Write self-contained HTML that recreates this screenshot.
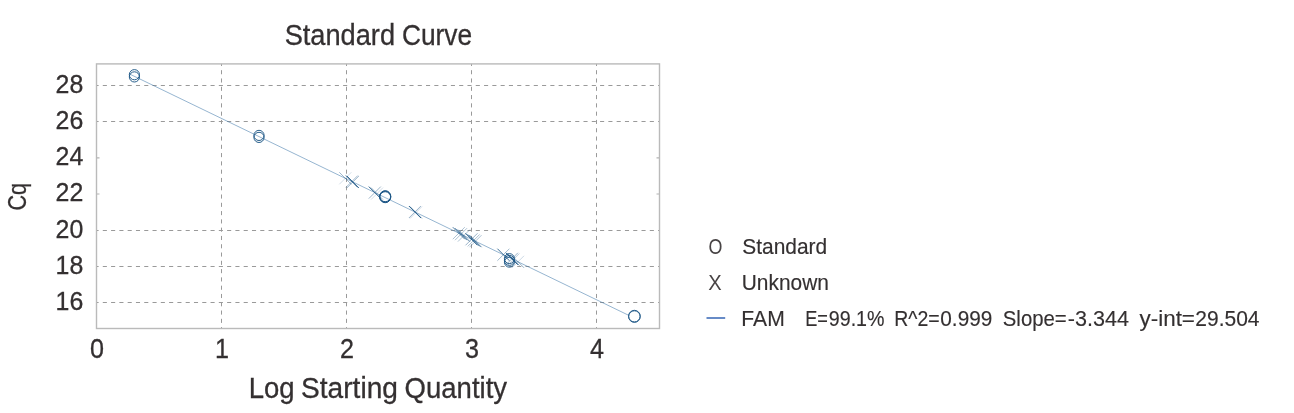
<!DOCTYPE html>
<html lang="en">
<head>
<meta charset="utf-8">
<title>Standard Curve</title>
<style>
html,body{margin:0;padding:0;background:#fff;}
body{width:1294px;height:413px;overflow:hidden;}
svg{display:block;}
text{font-family:"Liberation Sans","DejaVu Sans",sans-serif;fill:#343031;}
.t28{font-size:29px;stroke:#343031;stroke-width:0.3px;}
.t24{font-size:26.5px;stroke:#343031;stroke-width:0.3px;}
.t24x{font-size:27.3px;stroke:#343031;stroke-width:0.3px;}
.t20{font-size:21.3px;stroke:#343031;stroke-width:0.15px;}
.grid line{stroke:#9a9a9a;stroke-width:1;stroke-dasharray:4.1 4.188;stroke-dashoffset:2.0;}
.grid line.v{stroke-dashoffset:2.7;}
.std circle{fill:none;stroke:#1c5686;}
.unk path{fill:none;stroke:#1c5686;}
</style>
</head>
<body>
<svg width="1294" height="413" viewBox="0 0 1294 413">
<rect x="0" y="0" width="1294" height="413" fill="#ffffff"/>

<g class="grid">
<line class="v" x1="221.50" y1="328.50" x2="221.50" y2="63.90"/>
<line class="v" x1="346.50" y1="328.50" x2="346.50" y2="63.90"/>
<line class="v" x1="471.50" y1="328.50" x2="471.50" y2="63.90"/>
<line class="v" x1="596.50" y1="328.50" x2="596.50" y2="63.90"/>
<line x1="96.50" y1="302.50" x2="659.50" y2="302.50"/>
<line x1="96.50" y1="266.50" x2="659.50" y2="266.50"/>
<line x1="96.50" y1="230.50" x2="659.50" y2="230.50"/>
<line x1="96.50" y1="121.50" x2="659.50" y2="121.50"/>
<line x1="96.50" y1="85.50" x2="659.50" y2="85.50"/>
</g>
<path d="M96.50 194.00h3M659.50 194.00h-3" stroke="#b4b4b4" stroke-width="1.2" fill="none"/>
<path d="M96.50 157.83h3M659.50 157.83h-3" stroke="#b4b4b4" stroke-width="1.2" fill="none"/>
<rect x="96.50" y="63.90" width="563.00" height="264.60" fill="none" stroke="#bababa" stroke-width="1.4"/>
<line x1="129.80" y1="74.11" x2="628.60" y2="315.27" stroke="#3f78a8" stroke-width="0.55"/>
<g class="std">
<circle cx="134.4" cy="74.7" r="5.1" stroke-width="0.95"/>
<circle cx="134.4" cy="76.9" r="5.1" stroke-width="0.95"/>
<circle cx="259.0" cy="135.4" r="5.1" stroke-width="0.95"/>
<circle cx="259.0" cy="137.4" r="5.1" stroke-width="0.95"/>
<circle cx="385.2" cy="196.2" r="5.5" stroke-width="1.00"/>
<circle cx="385.2" cy="196.7" r="5.6" stroke-width="1.00"/>
<circle cx="385.2" cy="197.2" r="5.5" stroke-width="1.00"/>
<circle cx="509.4" cy="258.6" r="5.0" stroke-width="0.95"/>
<circle cx="509.4" cy="260.4" r="5.0" stroke-width="0.95"/>
<circle cx="509.4" cy="262.2" r="5.0" stroke-width="0.95"/>
<circle cx="634.4" cy="316.1" r="5.8" stroke-width="0.90"/>
<circle cx="634.4" cy="316.6" r="5.8" stroke-width="0.90"/>
</g>
<g class="unk">
<path opacity="0.45" stroke-width="0.95" d="M339.3 172.3L351.3 184.3"/>
<path opacity="0.27" stroke-width="0.75" d="M339.3 184.3L351.3 172.3"/>
<path opacity="1.00" stroke-width="0.95" d="M345.9 175.5L357.9 187.5"/>
<path opacity="0.60" stroke-width="0.75" d="M345.9 187.5L357.9 175.5"/>
<path opacity="0.80" stroke-width="0.95" d="M347.0 176.0L359.0 188.0"/>
<path opacity="0.48" stroke-width="0.75" d="M347.0 188.0L359.0 176.0"/>
<path opacity="1.00" stroke-width="0.95" d="M368.8 186.6L380.8 198.6"/>
<path opacity="0.60" stroke-width="0.75" d="M368.8 198.6L380.8 186.6"/>
<path opacity="0.45" stroke-width="0.95" d="M371.0 187.6L383.0 199.6"/>
<path opacity="0.27" stroke-width="0.75" d="M371.0 199.6L383.0 187.6"/>
<path opacity="1.00" stroke-width="0.95" d="M408.9 206.0L420.9 218.0"/>
<path opacity="0.60" stroke-width="0.75" d="M408.9 218.0L420.9 206.0"/>
<path opacity="0.50" stroke-width="0.95" d="M410.0 206.5L422.0 218.5"/>
<path opacity="0.30" stroke-width="0.75" d="M410.0 218.5L422.0 206.5"/>
<path opacity="0.80" stroke-width="0.95" d="M452.8 227.2L464.8 239.2"/>
<path opacity="0.48" stroke-width="0.75" d="M452.8 239.2L464.8 227.2"/>
<path opacity="0.80" stroke-width="0.95" d="M455.0 228.2L467.0 240.2"/>
<path opacity="0.48" stroke-width="0.75" d="M455.0 240.2L467.0 228.2"/>
<path opacity="0.80" stroke-width="0.95" d="M457.9 229.6L469.9 241.6"/>
<path opacity="0.48" stroke-width="0.75" d="M457.9 241.6L469.9 229.6"/>
<path opacity="1.00" stroke-width="0.95" d="M465.5 233.3L477.5 245.3"/>
<path opacity="0.60" stroke-width="0.75" d="M465.5 245.3L477.5 233.3"/>
<path opacity="0.80" stroke-width="0.95" d="M467.7 234.4L479.7 246.4"/>
<path opacity="0.48" stroke-width="0.75" d="M467.7 246.4L479.7 234.4"/>
<path opacity="0.80" stroke-width="0.95" d="M469.5 235.2L481.5 247.2"/>
<path opacity="0.48" stroke-width="0.75" d="M469.5 247.2L481.5 235.2"/>
<path opacity="0.90" stroke-width="0.95" d="M497.4 248.7L509.4 260.7"/>
<path opacity="0.54" stroke-width="0.75" d="M497.4 260.7L509.4 248.7"/>
<path opacity="1.00" stroke-width="0.95" d="M505.9 252.8L517.9 264.8"/>
<path opacity="0.60" stroke-width="0.75" d="M505.9 264.8L517.9 252.8"/>
<path opacity="0.70" stroke-width="0.95" d="M507.3 253.5L519.3 265.5"/>
<path opacity="0.42" stroke-width="0.75" d="M507.3 265.5L519.3 253.5"/>
<path opacity="0.50" stroke-width="0.95" d="M512.0 255.8L524.0 267.8"/>
<path opacity="0.30" stroke-width="0.75" d="M512.0 267.8L524.0 255.8"/>
</g>
<text class="t28" y="44.5"><tspan id="ti1" x="284.63" textLength="110.45" lengthAdjust="spacingAndGlyphs">Standard</tspan> <tspan id="ti2" x="401.96" textLength="70.18" lengthAdjust="spacingAndGlyphs">Curve</tspan></text>
<text class="t28" y="397.9"><tspan id="xl1" x="248.77" textLength="45.90" lengthAdjust="spacingAndGlyphs">Log</tspan> <tspan id="xl2" x="301.07" textLength="96.85" lengthAdjust="spacingAndGlyphs">Starting</tspan> <tspan id="xl3" x="404.58" textLength="102.52" lengthAdjust="spacingAndGlyphs">Quantity</tspan></text>
<text class="t28" style="font-size:26px" transform="translate(26.0 210.6) rotate(-90)" x="0" y="0" textLength="27.6" lengthAdjust="spacingAndGlyphs">Cq</text>
<text class="t24" x="83.3" y="309.9" text-anchor="end" textLength="27.7" lengthAdjust="spacingAndGlyphs">16</text>
<text class="t24" x="83.3" y="273.7" text-anchor="end" textLength="27.7" lengthAdjust="spacingAndGlyphs">18</text>
<text class="t24" x="83.3" y="237.6" text-anchor="end" textLength="27.7" lengthAdjust="spacingAndGlyphs">20</text>
<text class="t24" x="83.3" y="201.4" text-anchor="end" textLength="27.7" lengthAdjust="spacingAndGlyphs">22</text>
<text class="t24" x="83.3" y="165.2" text-anchor="end" textLength="27.7" lengthAdjust="spacingAndGlyphs">24</text>
<text class="t24" x="83.3" y="129.1" text-anchor="end" textLength="27.7" lengthAdjust="spacingAndGlyphs">26</text>
<text class="t24" x="83.3" y="92.9" text-anchor="end" textLength="27.7" lengthAdjust="spacingAndGlyphs">28</text>
<text class="t24x" x="96.9" y="358.3" text-anchor="middle" textLength="14" lengthAdjust="spacingAndGlyphs">0</text>
<text class="t24x" x="221.9" y="358.3" text-anchor="middle" textLength="14" lengthAdjust="spacingAndGlyphs">1</text>
<text class="t24x" x="347.0" y="358.3" text-anchor="middle" textLength="14" lengthAdjust="spacingAndGlyphs">2</text>
<text class="t24x" x="472.0" y="358.3" text-anchor="middle" textLength="14" lengthAdjust="spacingAndGlyphs">3</text>
<text class="t24x" x="597.0" y="358.3" text-anchor="middle" textLength="14" lengthAdjust="spacingAndGlyphs">4</text>
<text class="t20" y="253.7" style="stroke:none" fill-opacity="0.9"><tspan id="lgO" x="708.58" textLength="13.90" lengthAdjust="spacingAndGlyphs">O</tspan></text>
<text class="t20" y="253.7"><tspan id="lgS" x="742.28" textLength="84.93" lengthAdjust="spacingAndGlyphs">Standard</tspan></text>
<text class="t20" y="289.6" style="stroke:none" fill-opacity="0.9"><tspan id="lgX" x="708.37" textLength="13.45" lengthAdjust="spacingAndGlyphs">X</tspan></text>
<text class="t20" y="289.6"><tspan id="lgU" x="741.74" textLength="87.13" lengthAdjust="spacingAndGlyphs">Unknown</tspan></text>
<line x1="706.5" y1="318" x2="725.2" y2="318" stroke="#5f85c5" stroke-width="1.9"/>
<text class="t20" y="325.5"><tspan id="lgF" x="741.36" textLength="43.37" lengthAdjust="spacingAndGlyphs">FAM</tspan>   <tspan id="lgE1" x="805.23" textLength="22.71" lengthAdjust="spacingAndGlyphs">E=</tspan><tspan id="lgE2" x="828.77" textLength="55.74" lengthAdjust="spacingAndGlyphs">99.1%</tspan>  <tspan id="lgR1" x="894.32" textLength="45.38" lengthAdjust="spacingAndGlyphs">R^2=</tspan><tspan id="lgR2" x="940.32" textLength="52.02" lengthAdjust="spacingAndGlyphs">0.999</tspan>  <tspan id="lgL1" x="1002.81" textLength="63.92" lengthAdjust="spacingAndGlyphs">Slope=</tspan><tspan id="lgL2" x="1067.78" textLength="61.15" lengthAdjust="spacingAndGlyphs">-3.344</tspan>  <tspan id="lgY1" x="1139.50" textLength="55.47" lengthAdjust="spacingAndGlyphs">y-int=</tspan><tspan id="lgY2" x="1195.32" textLength="64.19" lengthAdjust="spacingAndGlyphs">29.504</tspan></text>
</svg>
</body>
</html>
